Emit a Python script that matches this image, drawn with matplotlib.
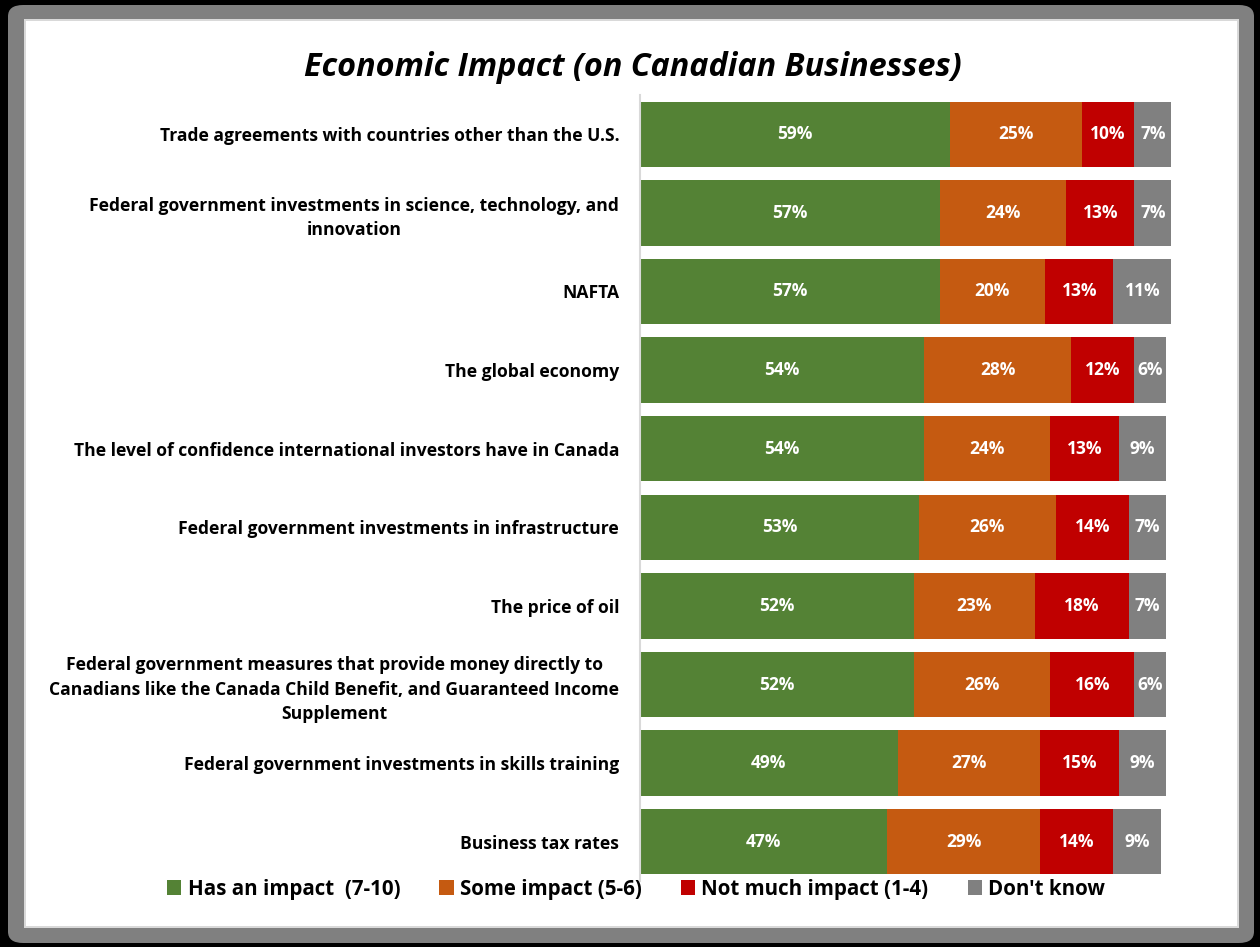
import numpy as np
import matplotlib.pyplot as plt
from matplotlib.patches import FancyBboxPatch, Rectangle

# Survey items (top to bottom) and share of responses per category
items = [
    "Trade agreements with countries other than the U.S.",
    "Federal government investments in science, technology, and\ninnovation",
    "NAFTA",
    "The global economy",
    "The level of confidence international investors have in Canada",
    "Federal government investments in infrastructure",
    "The price of oil",
    "Federal government measures that provide money directly to\nCanadians like the Canada Child Benefit, and Guaranteed Income\nSupplement",
    "Federal government investments in skills training",
    "Business tax rates",
]
has_impact = [59, 57, 57, 54, 54, 53, 52, 52, 49, 47]
some_impact = [25, 24, 20, 28, 24, 26, 23, 26, 27, 29]
not_much = [10, 13, 13, 12, 13, 14, 18, 16, 15, 14]
dont_know = [7, 7, 11, 6, 9, 7, 7, 6, 9, 9]

series_names = ["Has an impact  (7-10)", "Some impact (5-6)",
                "Not much impact (1-4)", "Don't know"]
colors = ["#548235", "#C55A11", "#C00000", "#808080"]

W, H = 1260, 947
fig = plt.figure(figsize=(W / 100, H / 100), dpi=100)
fig.patch.set_facecolor("black")

# rounded grey frame with white panel, kept behind the axes
fig.patches.append(FancyBboxPatch((8 / W, 4 / H), 1246 / W, 938 / H,
                                  boxstyle="round,pad=0,rounding_size=0.012",
                                  transform=fig.transFigure, facecolor="#808080",
                                  edgecolor="none", zorder=-10))
fig.patches.append(Rectangle((24 / W, 19 / H), 1215 / W, 909 / H,
                             transform=fig.transFigure, facecolor="#d9d9d9",
                             edgecolor="none", zorder=-9))
fig.patches.append(Rectangle((26 / W, 21 / H), 1211 / W, 905 / H,
                             transform=fig.transFigure, facecolor="white",
                             edgecolor="none", zorder=-8))

font = "Open Sans"
px_per_unit = 5.26
ax_left, ax_top, ax_bottom = 640, 95, 881
xmax = 110
ax = fig.add_axes([ax_left / W, 1 - ax_bottom / H,
                   xmax * px_per_unit / W, (ax_bottom - ax_top) / H])
ax.set_facecolor("none")

y = np.arange(len(items))
data = [has_impact, some_impact, not_much, dont_know]
left = np.zeros(len(items))
for vals, name, col in zip(data, series_names, colors):
    vals = np.array(vals, dtype=float)
    ax.barh(y, vals, left=left, height=0.83, color=col, label=name,
            edgecolor="none")
    for yi, l, v in zip(y, left, vals):
        ax.text(l + v / 2, yi, f"{int(v)}%", ha="center", va="center",
                color="white", fontsize=12.5, fontweight="bold", family=font)
    left += vals

ax.set_xlim(0, xmax)
ax.set_ylim(len(items) - 0.5, -0.5)
ax.set_yticks(y)
ax.set_yticklabels(items, fontsize=12.6, fontweight="bold", family=font,
                   linespacing=1.45, multialignment="center")
ax.tick_params(axis="y", length=0, pad=15)
ax.set_xticks([])
for s in ["top", "right", "bottom"]:
    ax.spines[s].set_visible(False)
ax.spines["left"].set_color("#d9d9d9")
ax.spines["left"].set_linewidth(1.5)

fig.text(633 / W, 1 - 67 / H, "Economic Impact (on Canadian Businesses)",
         ha="center", va="center", fontsize=23.3, fontweight="bold",
         fontstyle="italic", family=font)

fig.legend(loc="center", bbox_to_anchor=(636 / W, 1 - 889 / H), ncol=4,
           frameon=False, handlelength=0.7, handleheight=0.7,
           handletextpad=0.3, columnspacing=1.9,
           prop={"family": font, "weight": "bold", "size": 14.8})

fig.savefig("out.png", dpi=100, facecolor=fig.get_facecolor())
